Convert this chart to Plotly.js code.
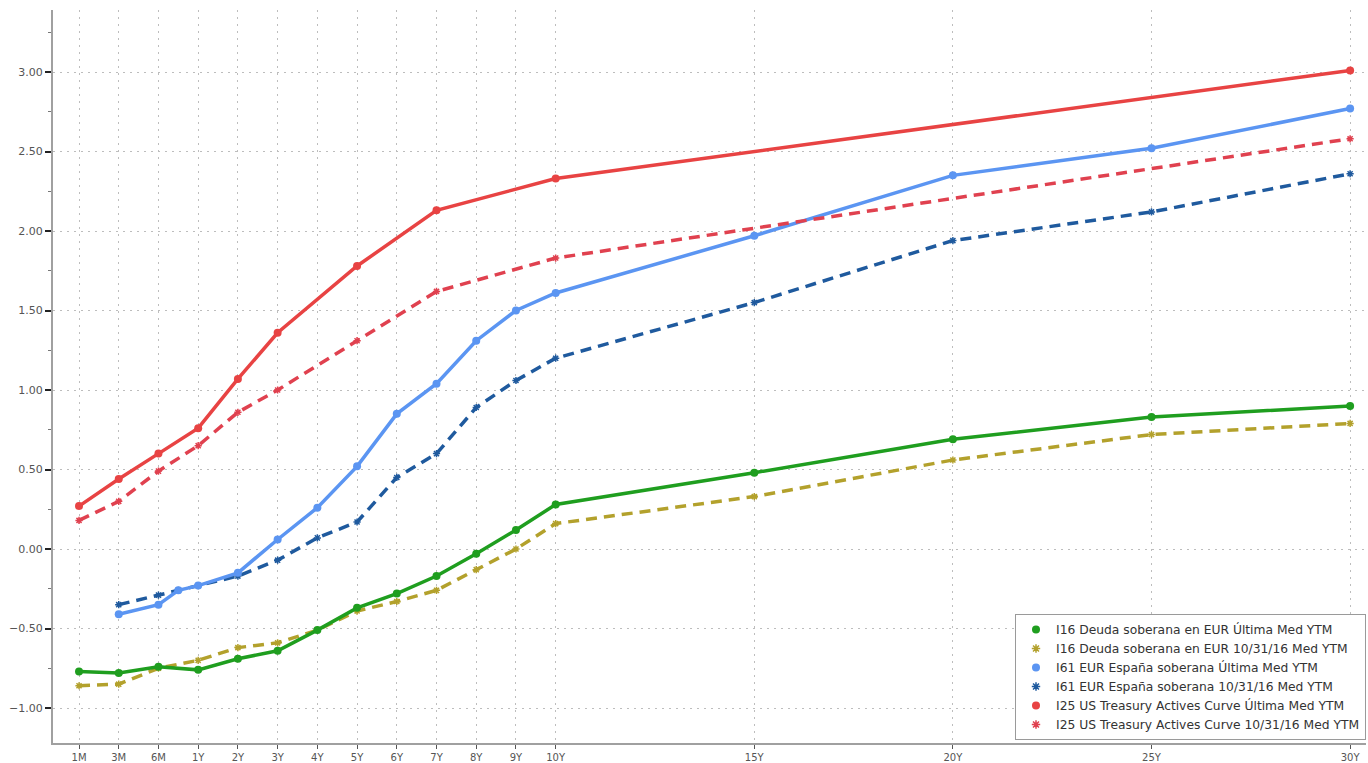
<!DOCTYPE html>
<html>
<head>
<meta charset="utf-8">
<script src="https://cdn.plot.ly/plotly-3.0.1.min.js"></script>
<style>html,body{margin:0;padding:0;background:#fff;}#chart{width:1368px;height:763px;}</style>
</head>
<body>
<div id="chart"></div>
<script>
// Tenor tick labels (axis order)
const tickLabels = ['1M','3M','6M','1Y','2Y','3Y','4Y','5Y','6Y','7Y','8Y','9Y','10Y','15Y','20Y','25Y','30Y'];

// Series tenors and values (yield, %)
const eurTenors = ['1M','3M','6M','1Y','2Y','3Y','4Y','5Y','6Y','7Y','8Y','9Y','10Y','15Y','20Y','25Y','30Y'];
const eurLast   = [-0.77,-0.78,-0.74,-0.76,-0.69,-0.64,-0.51,-0.37,-0.28,-0.17,-0.03,0.12,0.28,0.48,0.69,0.83,0.90];
const eurPrev   = [-0.86,-0.85,-0.75,-0.70,-0.62,-0.59,-0.51,-0.39,-0.33,-0.26,-0.13,0.00,0.16,0.33,0.56,0.72,0.79];

const esTenors = ['3M','6M','9M','1Y','2Y','3Y','4Y','5Y','6Y','7Y','8Y','9Y','10Y','15Y','20Y','25Y','30Y'];
const esLast   = [-0.41,-0.35,-0.26,-0.23,-0.15,0.06,0.26,0.52,0.85,1.04,1.31,1.50,1.61,1.97,2.35,2.52,2.77];
const esPrev   = [-0.35,-0.29,-0.26,-0.23,-0.17,-0.07,0.07,0.17,0.45,0.60,0.89,1.06,1.20,1.55,1.94,2.12,2.36];

const usTenors = ['1M','3M','6M','1Y','2Y','3Y','5Y','7Y','10Y','30Y'];
const usLast   = [0.27,0.44,0.60,0.76,1.07,1.36,1.78,2.13,2.33,3.01];
const usPrev   = [0.18,0.30,0.49,0.65,0.86,1.00,1.31,1.62,1.83,2.58];

const seriesNames = [
  'I16 Deuda soberana en EUR Última Med YTM',
  'I16 Deuda soberana en EUR 10/31/16 Med YTM',
  'I61 EUR España soberana Última Med YTM',
  'I61 EUR España soberana 10/31/16 Med YTM',
  'I25 US Treasury Actives Curve Última Med YTM',
  'I25 US Treasury Actives Curve 10/31/16 Med YTM'
];

// Axis scale: evenly spaced up to 10Y, then proportional to years
function tenorPos(t) {
  if (t === '9M') return 2.5;
  const i = tickLabels.indexOf(t);
  if (i <= 12) return i;
  return 12 + (parseInt(t) - 10);
}
const tickPos = tickLabels.map(tenorPos);

const colors = ['#1f9e1f', '#b3a12c', '#5b95f2', '#1f5a9e', '#e84343', '#e0414f'];

function mk(tenors, vals, idx, solid) {
  const c = colors[idx];
  return {
    type: 'scatter', mode: 'lines+markers',
    x: tenors.map(tenorPos), y: vals,
    name: seriesNames[idx], showlegend: false,
    line: {color: c, width: 3.5, dash: solid ? 'solid' : '11px,7px'},
    marker: solid ? {color: c, size: 8, symbol: 'circle'}
                  : {color: c, size: 6, symbol: 'asterisk-open', line: {color: c, width: 1.5}},
    hoverinfo: 'x+y'
  };
}
function leg(idx, solid) {
  const c = colors[idx];
  return {
    type: 'scatter', mode: 'markers', x: [null], y: [null],
    name: seriesNames[idx], showlegend: true,
    marker: solid ? {color: c, size: 8, symbol: 'circle'}
                  : {color: c, size: 7, symbol: 'asterisk-open', line: {color: c, width: 1.5}}
  };
}

const data = [
  mk(eurTenors, eurPrev, 1, false),
  mk(eurTenors, eurLast, 0, true),
  mk(esTenors, esPrev, 3, false),
  mk(esTenors, esLast, 2, true),
  mk(usTenors, usPrev, 5, false),
  mk(usTenors, usLast, 4, true),
  leg(0, true), leg(1, false), leg(2, true), leg(3, false), leg(4, true), leg(5, false)
];

const layout = {
  width: 1368, height: 763,
  margin: {l: 53, r: 2, t: 10, b: 20},
  paper_bgcolor: '#ffffff', plot_bgcolor: '#ffffff',
  font: {family: 'DejaVu Sans, Verdana, sans-serif', size: 11, color: '#555'},
  showlegend: true,
  legend: {
    x: 1, xanchor: 'right', y: 0.004, yanchor: 'bottom',
    bgcolor: '#ffffff', bordercolor: '#9a9a9a', borderwidth: 1,
    font: {family: 'DejaVu Sans, Verdana, sans-serif', size: 12.3, color: '#333'},
    itemwidth: 30, tracegroupgap: 0,
    traceorder: 'normal'
  },
  xaxis: {
    range: [-0.655, 32.4],
    tickmode: 'array', tickvals: tickPos, ticktext: tickLabels,
    showgrid: true, gridcolor: '#bdbdbd', griddash: '2px,5px', gridwidth: 1,
    zeroline: false,
    showline: true, linecolor: '#a0a0a0', linewidth: 2,
    ticks: 'outside', ticklen: 4, tickcolor: '#555', tickwidth: 1,
    tickfont: {size: 10, color: '#555'}
  },
  yaxis: {
    range: [-1.22, 3.39],
    tickmode: 'linear', tick0: 0, dtick: 0.5, tickformat: '.2f',
    showgrid: true, gridcolor: '#bdbdbd', griddash: '2px,5px', gridwidth: 1,
    zeroline: false,
    showline: true, linecolor: '#a0a0a0', linewidth: 2,
    ticks: 'outside', ticklen: 6, tickcolor: '#222', tickwidth: 2,
    tickfont: {size: 11, color: '#555'},
    minor: {dtick: 0.25, tick0: 0, ticks: 'outside', ticklen: 3, tickcolor: '#777', tickwidth: 1, showgrid: false}
  }
};

Plotly.newPlot('chart', data, layout, {displayModeBar: false, staticPlot: true});
</script>
</body>
</html>
